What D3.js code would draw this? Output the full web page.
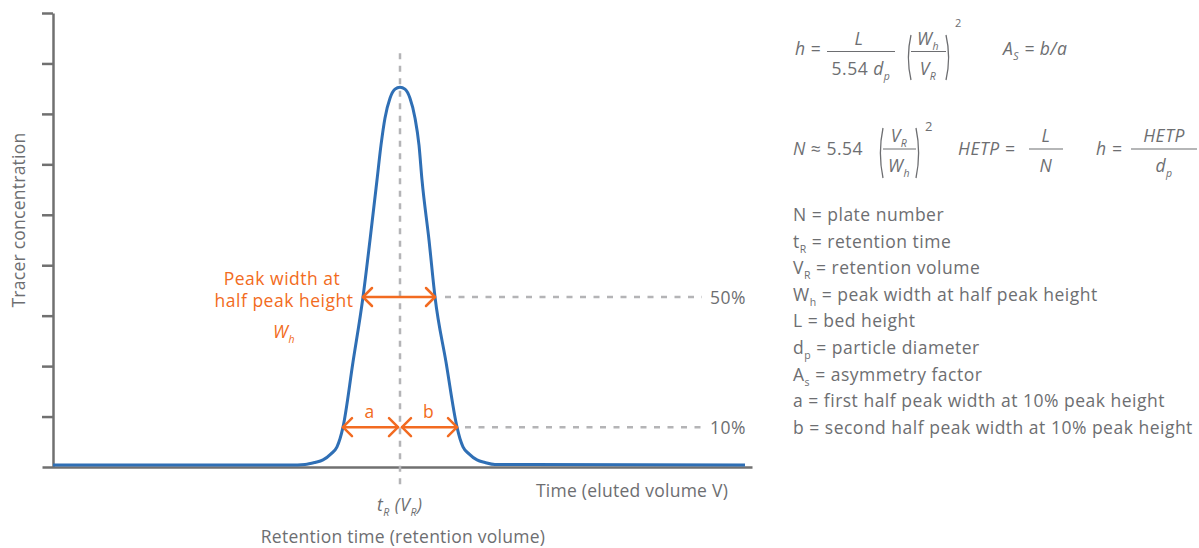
<!DOCTYPE html>
<html>
<head>
<meta charset="utf-8">
<script src="https://cdn.jsdelivr.net/npm/d3@7"></script>
<style>
  html, body { margin: 0; padding: 0; background: #ffffff; }
  svg { display: block; }
  text { font-family: "Open Sans", Lato, sans-serif; fill: #6d6e71; letter-spacing: 0.5px; }
</style>
</head>
<body>
<svg id="chart" width="1199" height="548"></svg>
<script>
// ---------------- data ----------------
const timeValues = [0.00, 4.74, 5.04, 5.24, 5.40, 5.56, 5.68, 5.74, 5.80, 6.00, 6.20, 6.34, 6.48, 6.56, 6.64, 6.74, 6.84, 6.94,
  7.04, 7.14, 7.24, 7.32, 7.38, 7.52, 7.64, 7.86, 8.08, 8.14, 8.20, 8.32, 8.48, 8.64, 8.84, 13.84];
const concValues = [0.04, 0.04, 0.05, 0.09, 0.14, 0.26, 0.40, 0.56, 0.79, 2.08, 3.37, 4.50, 5.69, 6.38, 6.92, 7.31, 7.49, 7.53,
  7.49, 7.31, 6.92, 6.38, 5.69, 4.50, 3.37, 2.08, 0.79, 0.56, 0.40, 0.26, 0.14, 0.09, 0.05, 0.04];
const yTickValues = [1, 2, 3, 4, 5, 6, 7, 8, 9];
const retentionTime = 6.94;
const halfLevel = 3.37;           // drawn level of the 50 % marker
const tenLevel = 0.79;            // drawn level of the 10 % marker
const halfWidthEnds = [6.20, 7.64];
const aEnds = [5.80, 6.90];
const bEnds = [6.98, 8.08];
const levelLabels = ["50%", "10%"];
const legendLines = [
  [["N = plate number"]],
  [["t"], ["R", "sub"], [" = retention time"]],
  [["V"], ["R", "sub"], [" = retention volume"]],
  [["W"], ["h", "sub"], [" = peak width at half peak height"]],
  [["L = bed height"]],
  [["d"], ["p", "sub"], [" = particle diameter"]],
  [["A"], ["s", "sub"], [" = asymmetry factor"]],
  [["a = first half peak width at 10% peak height"]],
  [["b = second half peak width at 10% peak height"]]
];

// ---------------- setup ----------------
const svg = d3.select("#chart");
const x = d3.scaleLinear().domain([0, 14]).range([53, 753]);
const y = d3.scaleLinear().domain([0, 9]).range([467, 13]);
const grey = "#707070";
const orange = "#f26b21";
const blue = "#2f6fb5";
const dashGrey = "#b4b4b6";
const textGrey = "#6d6e71";
const FS = 17.5;

// rich text helper
function rich(parent, px, py, segs, opts = {}) {
  const size = opts.size || FS;
  const t = parent.append("text")
    .attr("x", px).attr("y", py)
    .attr("text-anchor", opts.anchor || "start")
    .style("font-size", size + "px")
    .style("fill", opts.color || textGrey);
  if (opts.italic) t.style("font-style", "italic");
  let shift = 0;
  segs.forEach(s => {
    const [txt, kind] = s;
    const sp = t.append("tspan").text(txt);
    if (kind === "sub" || kind === "isub") {
      sp.attr("dy", 5 - shift).style("font-size", (size * 0.6) + "px");
      shift = 5;
    } else {
      if (shift !== 0) sp.attr("dy", -shift);
      shift = 0;
    }
    if (kind === "i" || kind === "isub") sp.style("font-style", "italic");
  });
  return t;
}

// ---------------- axes ----------------
const yAxis = d3.axisLeft(y).tickValues(yTickValues).tickFormat("").tickSize(11).tickSizeOuter(0);
const gy = svg.append("g").attr("transform", `translate(${x(0)},0)`).call(yAxis);
gy.select(".domain").attr("stroke", grey).attr("stroke-width", 2.5);
gy.selectAll(".tick line").attr("stroke", grey).attr("stroke-width", 2.5);

const xAxisScale = x.copy().domain([-0.22, 13.98]).range([x(-0.22), x(13.98)]);
const gx = svg.append("g").attr("transform", `translate(0,${y(0)})`)
  .call(d3.axisBottom(xAxisScale).tickValues([]).tickSizeOuter(0));
gx.select(".domain").attr("stroke", grey).attr("stroke-width", 2.5);

// ---------------- dashed guides ----------------
svg.append("line")
  .attr("x1", x(retentionTime)).attr("x2", x(retentionTime))
  .attr("y1", y(8.2)).attr("y2", y(-0.4))
  .attr("stroke", dashGrey).attr("stroke-width", 2.5).attr("stroke-dasharray", "6,6.5");

[[halfLevel, halfWidthEnds[1] + 0.2], [tenLevel, bEnds[1] + 0.16]].forEach(([lv, start], i) => {
  svg.append("line")
    .attr("x1", x(start)).attr("x2", x(12.98))
    .attr("y1", y(lv)).attr("y2", y(lv))
    .attr("stroke", dashGrey).attr("stroke-width", 2.5).attr("stroke-dasharray", "6,7.5");
  svg.append("text").attr("x", x(13.14)).attr("y", y(lv) + 6.5)
    .style("font-size", FS + "px").text(levelLabels[i]);
});

// ---------------- peak ----------------
const line = d3.line().x(d => x(d[0])).y(d => y(d[1])).curve(d3.curveMonotoneX);
svg.append("path")
  .datum(timeValues.map((t, i) => [t, concValues[i]]))
  .attr("d", line)
  .attr("fill", "none").attr("stroke", blue).attr("stroke-width", 3);

// ---------------- arrows ----------------
function arrow(x1, x2, yy) {
  const g = svg.append("g").attr("stroke", orange).attr("stroke-width", 2.5).attr("fill", "none")
    .attr("stroke-linecap", "round").attr("stroke-linejoin", "round");
  g.append("line").attr("x1", x1).attr("x2", x2).attr("y1", yy).attr("y2", yy);
  const h = 9, w = 9;
  g.append("path").attr("d", `M${x1 + w},${yy - h} L${x1},${yy} L${x1 + w},${yy + h}`);
  g.append("path").attr("d", `M${x2 - w},${yy - h} L${x2},${yy} L${x2 - w},${yy + h}`);
}
arrow(x(halfWidthEnds[0]), x(halfWidthEnds[1]), y(halfLevel));
arrow(x(aEnds[0]), x(aEnds[1]), y(tenLevel));
arrow(x(bEnds[0]), x(bEnds[1]), y(tenLevel));

svg.append("text").attr("x", x((aEnds[0] + aEnds[1]) / 2) - 1).attr("y", 418)
  .attr("text-anchor", "middle").style("font-size", FS + "px").style("fill", orange).text("a");
svg.append("text").attr("x", x((bEnds[0] + bEnds[1]) / 2) - 1).attr("y", 418)
  .attr("text-anchor", "middle").style("font-size", FS + "px").style("fill", orange).text("b");

svg.append("text").attr("x", 282).attr("y", 285).attr("text-anchor", "middle")
  .style("font-size", FS + "px").style("fill", orange).text("Peak width at");
svg.append("text").attr("x", 284).attr("y", 307).attr("text-anchor", "middle")
  .style("font-size", FS + "px").style("fill", orange).text("half peak height");
rich(svg, 284, 338, [["W"], ["h", "sub"]], { italic: true, anchor: "middle", color: orange });

// ---------------- axis labels ----------------
svg.append("text").attr("transform", "translate(25,220) rotate(-90)")
  .attr("text-anchor", "middle").style("font-size", FS + "px").style("letter-spacing", "0.25px")
  .text("Tracer concentration");
svg.append("text").attr("x", 632).attr("y", 497).attr("text-anchor", "middle")
  .style("font-size", FS + "px").style("letter-spacing", "0.25px").text("Time (eluted volume V)");
rich(svg, 377, 511, [["t"], ["R", "sub"], [" ("], ["V"], ["R", "sub"], [")"]], { italic: true });
svg.append("text").attr("x", 403).attr("y", 543).attr("text-anchor", "middle")
  .style("font-size", FS + "px").style("letter-spacing", "0.25px").text("Retention time (retention volume)");

// ---------------- formulas ----------------
const f = svg.append("g");
function bar(x1, x2, yy) {
  f.append("line").attr("x1", x1).attr("x2", x2).attr("y1", yy).attr("y2", yy)
    .attr("stroke", textGrey).attr("stroke-width", 1.2);
}
function paren(xx, y1, y2, left) {
  const d = left ? -4 : 4;
  f.append("path").attr("d", `M${xx - d},${y1} Q${xx + d * 0.3},${(y1 + y2) / 2} ${xx - d},${y2}`)
    .attr("fill", "none").attr("stroke", textGrey).attr("stroke-width", 1.3);
}
// row 1
rich(f, 795, 55, [["h", "i"], [" ="]]);
bar(827, 895, 51.5);
rich(f, 859, 45, [["L", "i"]], { anchor: "middle" });
rich(f, 861, 75, [["5.54 "], ["d", "i"], ["p", "isub"]], { anchor: "middle" });
paren(907, 35, 80, true);
paren(950, 35, 80, false);
bar(911, 946, 51.5);
rich(f, 928, 45, [["W"], ["h", "sub"]], { italic: true, anchor: "middle" });
rich(f, 928, 75, [["V"], ["R", "sub"]], { italic: true, anchor: "middle" });
rich(f, 955, 27, [["2"]], { size: 11 });
rich(f, 1003, 55, [["A"], ["S", "sub"], [" = b/a"]], { italic: true });

// row 2
rich(f, 793, 155, [["N", "i"], [" ≈ 5.54"]]);
paren(879, 128, 178, true);
paren(920, 128, 178, false);
bar(883, 916, 149);
rich(f, 899, 142, [["V"], ["R", "sub"]], { italic: true, anchor: "middle" });
rich(f, 899, 172, [["W"], ["h", "sub"]], { italic: true, anchor: "middle" });
rich(f, 925, 131, [["2"]], { size: 13 });
rich(f, 958, 155, [["HETP = "]], { italic: true });
bar(1029, 1063, 149);
rich(f, 1046, 142, [["L"]], { italic: true, anchor: "middle" });
rich(f, 1046, 172, [["N"]], { italic: true, anchor: "middle" });
rich(f, 1096, 155, [["h ="]], { italic: true });
bar(1131, 1197, 149);
rich(f, 1164, 142, [["HETP"]], { italic: true, anchor: "middle" });
rich(f, 1164, 172, [["d"], ["p", "sub"]], { italic: true, anchor: "middle" });

// ---------------- legend ----------------
legendLines.forEach((segs, i) => {
  rich(svg, 793, 221 + i * 26.6, segs);
});
</script>
</body>
</html>
